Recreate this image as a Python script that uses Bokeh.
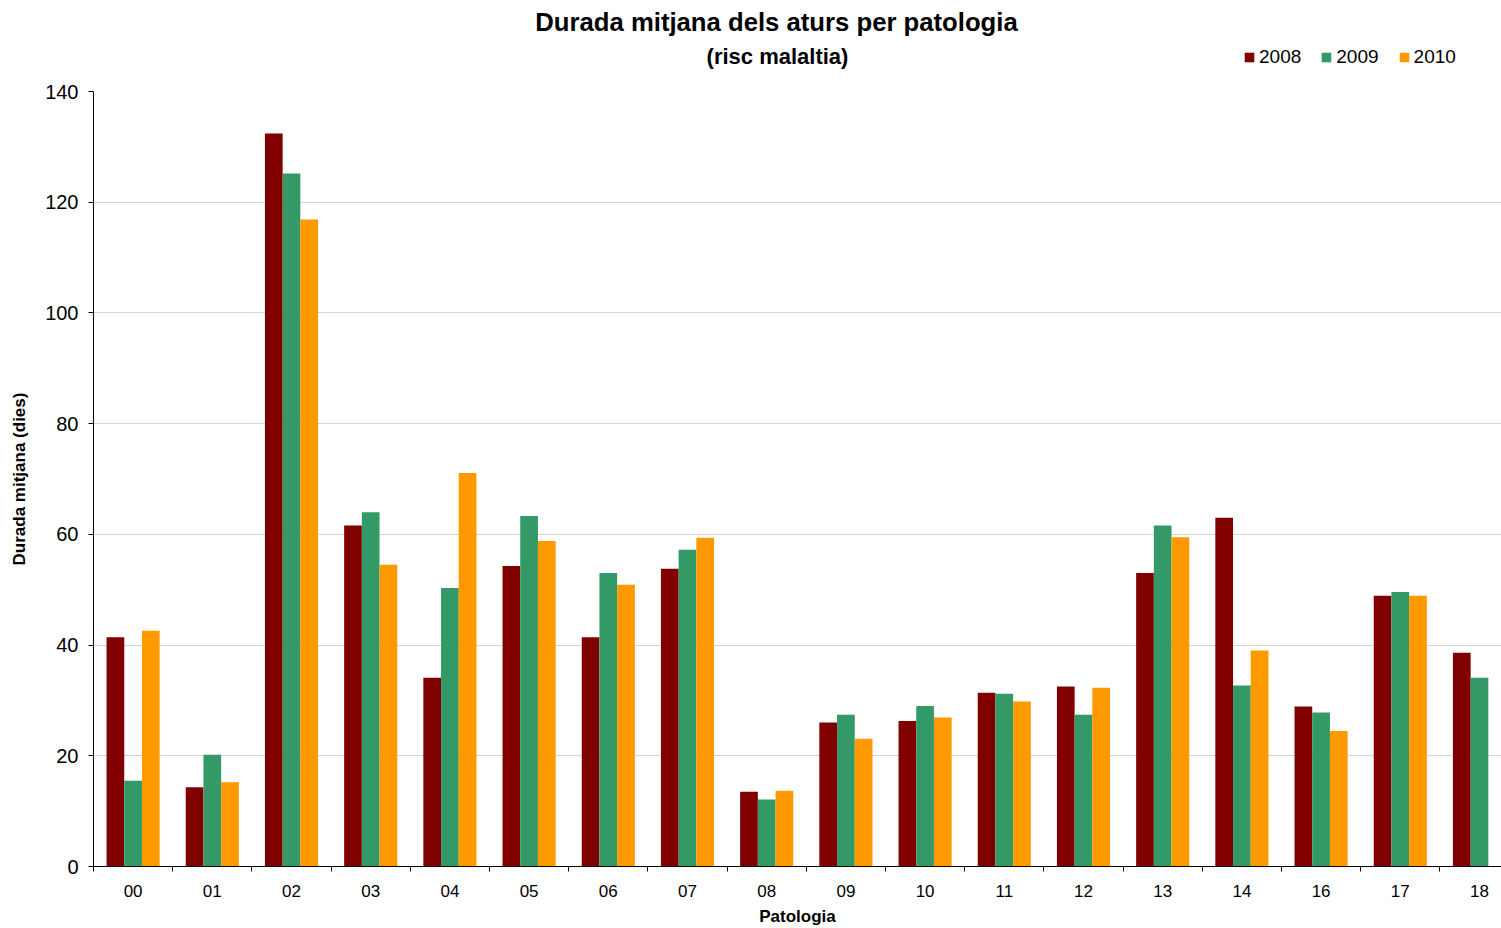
import numpy as np
from bokeh.plotting import figure
from bokeh.layouts import column
from bokeh.models import (Range1d, FixedTicker, Label, Legend, LegendItem, ColumnDataSource)
from bokeh.embed import file_html
from bokeh.resources import INLINE

# ---- data ----
categories = ["00", "01", "02", "03", "04", "05", "06", "07", "08", "09",
              "10", "11", "12", "13", "14", "16", "17", "18"]
years = ["2008", "2009", "2010"]
v2008 = [41.4, 14.3, 132.4, 61.6, 34.1, 54.3, 41.4, 53.8, 13.5, 26.0,
         26.3, 31.4, 32.5, 53.0, 63.0, 28.9, 48.9, 38.6]
v2009 = [15.5, 20.2, 125.2, 64.0, 50.3, 63.3, 53.0, 57.2, 12.1, 27.4,
         29.0, 31.2, 27.4, 61.6, 32.7, 27.8, 49.6, 34.1]
v2010 = [42.6, 15.2, 116.9, 54.5, 71.1, 58.8, 50.9, 59.4, 13.7, 23.1,
         26.9, 29.8, 32.3, 59.5, 39.0, 24.5, 48.9, float("nan")]
y_ticks = [0, 20, 40, 60, 80, 100, 120, 140]

colors = ["#800000", "#339966", "#FF9900"]
FONT = "Liberation Sans"
n = len(categories)

LEFT = 93      # left border of the plotting frame (px)
TOP_H = 79     # height of the header strip (px)

# ---------- header figure (title, subtitle, legend) ----------
# its frame is aligned with the chart frame by the column layout;
# ranges are chosen so that header coordinates equal page pixels
head = figure(width=1501, height=TOP_H, output_backend="svg", toolbar_location=None,
              x_range=Range1d(LEFT, 1501), y_range=Range1d(TOP_H, 0),
              x_axis_type=None, y_axis_type=None,
              min_border_left=LEFT, min_border_right=0, min_border_top=0,
              min_border_bottom=0)
head.outline_line_color = None
head.xgrid.grid_line_color = None
head.ygrid.grid_line_color = None
head.background_fill_color = "white"
head.border_fill_color = "white"

head.add_layout(Label(x=776, y=21.5, text="Durada mitjana dels aturs per patologia",
                      text_align="center", text_baseline="middle",
                      text_font=FONT, text_font_size="25.7px", text_font_style="bold",
                      text_color="black"))
head.add_layout(Label(x=777, y=56, text="(risc malaltia)",
                      text_align="center", text_baseline="middle",
                      text_font=FONT, text_font_size="22px", text_font_style="bold",
                      text_color="black"))

legend_renderers = []
for col in colors:
    legend_renderers.append(head.vbar(x=[-1000], top=[-1000], width=1,
                                      fill_color=col, line_color=None))
legend = Legend(items=[LegendItem(label=y, renderers=[r]) for y, r in zip(years, legend_renderers)],
                orientation="horizontal", location=(1243 - LEFT, 11.2),
                padding=0, margin=0, spacing=19, label_standoff=4,
                glyph_width=12, glyph_height=12, label_height=20,
                label_text_font=FONT, label_text_font_size="19px",
                label_text_color="black", label_text_baseline="middle",
                border_line_color=None, background_fill_alpha=0)
head.add_layout(legend, "center")

# ---------- main chart ----------
p = figure(width=1501, height=928 - TOP_H, output_backend="svg", toolbar_location=None,
           x_range=Range1d(0, 17.778), y_range=Range1d(0, 140),
           min_border_left=LEFT, min_border_right=0, min_border_top=12,
           min_border_bottom=61)
p.outline_line_color = None
p.background_fill_color = "white"
p.border_fill_color = "white"

bw = 0.2235
offsets = [-bw, 0.0, bw]
for vals, off, col in zip([v2008, v2009, v2010], offsets, colors):
    xs = np.arange(n) + 0.5 + off
    src = ColumnDataSource(dict(x=xs, top=vals))
    p.vbar(x="x", top="top", width=bw, source=src, fill_color=col, line_color=None)

# x axis: labels at category centres, tick marks at boundaries
centers = [i + 0.5 for i in range(n)]
p.xaxis.ticker = FixedTicker(ticks=centers, minor_ticks=list(range(n + 1)))
p.xaxis.major_label_overrides = {c: lab for c, lab in zip(centers, categories)}
p.xaxis.major_tick_out = 0
p.xaxis.major_tick_in = 0
p.xaxis.minor_tick_out = 5
p.xaxis.minor_tick_in = 0
p.xaxis.minor_tick_line_color = "black"
p.xaxis.axis_line_color = "black"
p.xaxis.major_label_text_font = FONT
p.xaxis.major_label_text_font_size = "17px"
p.xaxis.major_label_text_color = "black"
p.xaxis.major_label_standoff = 13
p.xaxis.axis_label = "Patologia"
p.xaxis.axis_label_text_font = FONT
p.xaxis.axis_label_text_font_size = "17px"
p.xaxis.axis_label_text_font_style = "bold"
p.xaxis.axis_label_text_color = "black"
p.xaxis.axis_label_standoff = 7
p.xgrid.grid_line_color = None

# y axis
p.yaxis.ticker = FixedTicker(ticks=y_ticks)
p.yaxis.major_tick_out = 5
p.yaxis.major_tick_in = 0
p.yaxis.minor_tick_line_color = None
p.yaxis.axis_line_color = "black"
p.yaxis.major_tick_line_color = "black"
p.yaxis.major_label_text_font = FONT
p.yaxis.major_label_text_font_size = "20px"
p.yaxis.major_label_text_color = "black"
p.yaxis.major_label_standoff = 10
p.yaxis.axis_label = "Durada mitjana (dies)"
p.yaxis.axis_label_text_font = FONT
p.yaxis.axis_label_text_font_size = "17px"
p.yaxis.axis_label_text_font_style = "bold"
p.yaxis.axis_label_text_color = "black"
p.yaxis.axis_label_standoff = 13
p.ygrid.ticker = FixedTicker(ticks=y_ticks[1:-1])
p.ygrid.grid_line_color = "#d4d4d4"
p.ygrid.grid_line_width = 1

layout = column(head, p, spacing=0)
open("out.html", "w").write(file_html(layout, INLINE))
